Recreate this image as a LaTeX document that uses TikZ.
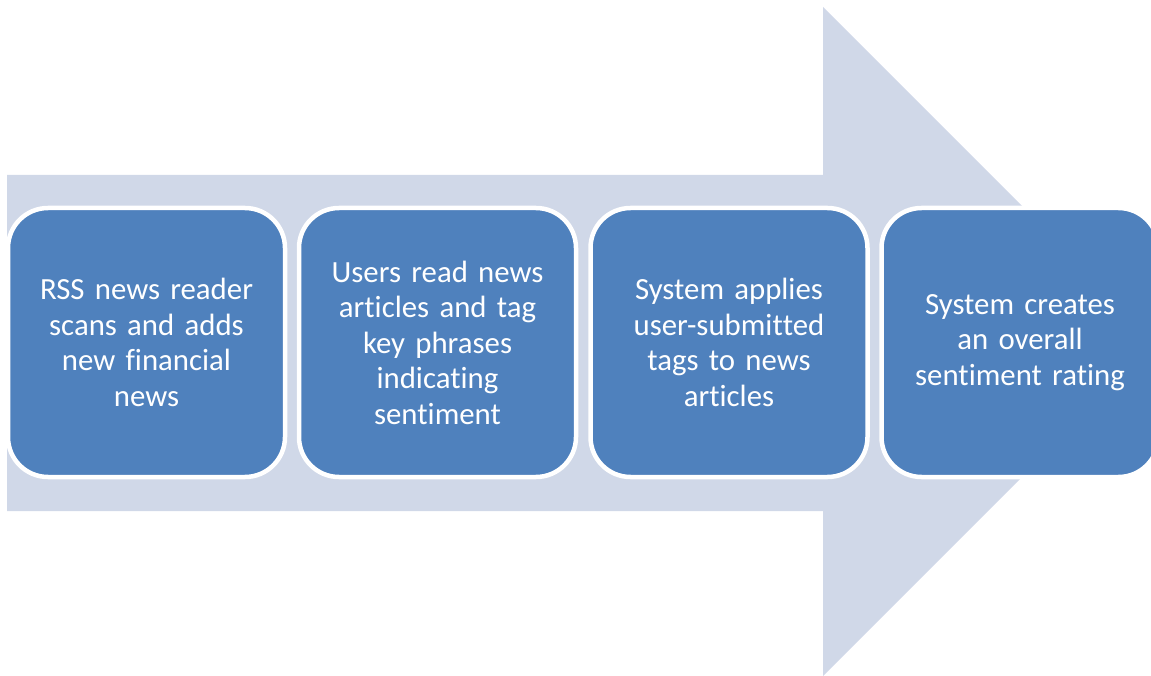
\documentclass[tikz,border=0pt]{standalone}
\usepackage{fontspec}
\setmainfont{Carlito}[RawFeature={-liga;-clig;-calt;-dlig}]
\definecolor{arrowfill}{HTML}{D0D8E8}
\definecolor{boxfill}{HTML}{4F81BD}
\begin{document}
\begin{tikzpicture}[x=1pt,y=-1pt,
  stepbox/.style={draw=white, line width=4.5pt, fill=boxfill, rounded corners=40pt,
    minimum width=277pt, minimum height=269pt, inner sep=0pt,
    text width=265pt, align=center, text=white,
    font=\fontsize{30.8}{35.5}\selectfont}]
\useasboundingbox (0,0) rectangle (1151,676);
\clip (0,0) rectangle (1151,676);
\fill[arrowfill] (7,175) -- (823,175) -- (823,7) -- (1157.5,341.5) -- (823,676) -- (823,511) -- (7,511) -- cycle;
\node[stepbox] (s1) at (146.5,342.5) {RSS news reader\\scans and adds\\new f\kern0pt inancial\\news};
\node[stepbox] (s2) at (437.5,342.5) {Users read news\\art\kern0pt icles and tag\\key phrases\\indicat\kern0pt ing\\sent\kern0pt iment};
\node[stepbox] (s3) at (729,342.5) {System applies\\user-submit\kern0pt ted\\tags to news\\art\kern0pt icles};
\node[stepbox] (s4) at (1020,342.5) {System creates\\an overall\\sent\kern0pt iment rat\kern0pt ing};
\end{tikzpicture}
\end{document}
